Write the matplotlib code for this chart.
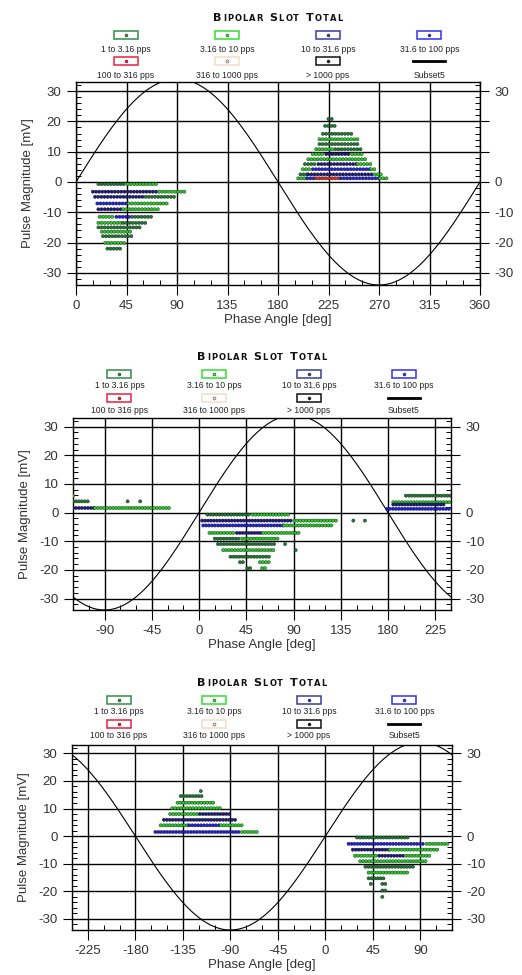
import numpy as np
import matplotlib
matplotlib.use("Agg")
import matplotlib.pyplot as plt
from matplotlib.patches import Rectangle
from matplotlib.lines import Line2D
from matplotlib.ticker import MultipleLocator

plt.rcParams['font.family'] = ['Liberation Sans', 'DejaVu Sans']
plt.rcParams['axes.unicode_minus'] = False

W, H = 522, 975
PHASE_STEP = 2.8125
SINE_AMP = 34

# legend entries (pulse rate classes)
rate_labels = ["1 to 3.16 pps", "3.16 to 10 pps", "10 to 31.6 pps", "31.6 to 100 pps",
               "100 to 316 pps", "316 to 1000 pps", "> 1000 pps", "Subset5"]
box_colors = ["#2f8f45", "#2ee02e", "#3c3c9c", "#3030f0", "#e8203c", "#f7dcc8", "#111111", "#000000"]
# dot colors by class 1..5
dot_colors = {1: "#1d7a30", 2: "#22cc22", 3: "#1a1a80", 4: "#1f1fe0", 5: "#e02020"}

# rows of pulses: (magnitude mV, phase start, phase end, class)
p1_neg = [(-0.7, 20, 45, 1), (-0.7, 46, 73, 2),
          (-3.2, 15, 73, 3), (-3.2, 74, 99, 2),
          (-4.9, 17, 60, 3), (-4.9, 62, 88, 1),
          (-7.1, 19, 45, 4), (-7.1, 47, 81, 2),
          (-9.0, 20, 40, 3), (-9.0, 42, 75, 2),
          (-11.5, 21, 35, 2), (-11.5, 36, 48, 4), (-11.5, 50, 69, 1),
          (-13.5, 20, 40, 2), (-13.5, 42, 64, 1),
          (-15.0, 20, 57, 1), (-16.4, 23, 51, 2), (-17.9, 24, 50, 1),
          (-20.1, 26, 44, 2), (-22.0, 28, 41, 1)]
p1_pos = [(20.8, 225, 229, 1), (18.5, 222, 233, 1), (15.9, 220, 247, 1),
          (14.1, 217, 251, 2), (12.5, 217, 253, 1),
          (10.8, 214, 230, 2), (10.8, 231, 256, 1),
          (9.2, 211, 222, 2), (9.2, 223, 245, 3), (9.2, 246, 255, 2),
          (7.5, 207, 259, 2),
          (5.9, 204, 215, 1), (5.9, 216, 250, 3), (5.9, 251, 265, 2),
          (4.2, 202, 210, 2), (4.2, 211, 262, 4), (4.2, 263, 268, 2),
          (2.5, 200, 206, 1), (2.5, 207, 265, 3), (2.5, 266, 273, 2),
          (1.2, 198, 205, 2), (1.2, 206, 213, 4), (1.2, 214, 235, 5),
          (1.2, 236, 270, 4), (1.2, 271, 278, 2)]

p2_neg = [(-0.7, 8, 50, 1), (-0.7, 51, 87, 2),
          (-2.8, 3, 90, 3), (-2.8, 91, 132, 2), (-2.8, 147, 147, 1), (-2.8, 158, 158, 1),
          (-4.5, 4, 80, 4), (-4.5, 81, 128, 2),
          (-7.1, 10, 35, 2), (-7.1, 36, 60, 3), (-7.1, 61, 96, 2),
          (-9.1, 15, 40, 1), (-9.1, 41, 77, 2),
          (-11.0, 18, 74, 1), (-11.0, 82, 82, 1),
          (-13.1, 23, 71, 2), (-13.1, 92, 92, 1),
          (-15.4, 30, 68, 1),
          (-17.3, 39, 44, 1), (-17.3, 58, 68, 2),
          (-19.4, 46, 50, 1), (-19.4, 60, 65, 2)]
p2_pos = [(5.9, -120, -118, 2),
          (3.9, -120, -104, 1), (3.9, -68, -68, 1), (3.9, -56, -56, 1),
          (1.6, -120, -100, 3), (1.6, -99, -26, 2),
          (5.9, 197, 240, 1), (3.6, 185, 240, 2), (2.8, 185, 235, 3), (1.3, 179, 240, 4)]

p3_pos = [(16.3, -118, -118, 1), (14.5, -137, -115, 1), (12.1, -140, -106, 2),
          (10.1, -145, -98, 2),
          (8.0, -147, -120, 2), (8.0, -119, -90, 3),
          (5.9, -153, -85, 3),
          (3.9, -156, -130, 2), (3.9, -129, -100, 4), (3.9, -99, -78, 2),
          (1.5, -161, -80, 4), (1.5, -79, -63, 2)]
p3_neg = [(-0.5, 30, 80, 1),
          (-2.8, 22, 95, 4), (-2.8, 96, 116, 2),
          (-4.9, 26, 60, 3), (-4.9, 61, 106, 2),
          (-7.1, 28, 50, 2), (-7.1, 51, 75, 3), (-7.1, 76, 99, 2),
          (-9.1, 33, 97, 2), (-11.1, 38, 85, 1), (-13.2, 41, 79, 2),
          (-15.3, 41, 57, 1),
          (-17.3, 43, 45, 1), (-17.3, 54, 57, 1),
          (-19.7, 54, 57, 1), (-22.0, 54, 54, 1)]

p1_ticks = [0, 45, 90, 135, 180, 225, 270, 315, 360]
p2_ticks = [-90, -45, 0, 45, 90, 135, 180, 225]
p3_ticks = [-225, -180, -135, -90, -45, 0, 45, 90]
y_ticks = [-30, -20, -10, 0, 10, 20, 30]

fig = plt.figure(figsize=(W / 100, H / 100), dpi=100)
renderer = fig.canvas.get_renderer()


def fx(x):
    return x / W


def fy(y):
    return 1 - y / H


def expand(rows):
    xs, ys, cs = [], [], []
    for mag, a, b, cat in rows:
        ph = np.arange(a, b + 0.01, PHASE_STEP)
        xs.extend(ph)
        ys.extend([mag] * len(ph))
        cs.extend([dot_colors[cat]] * len(ph))
    return xs, ys, cs


def smallcaps_title(cx, cy, text="Bipolar Slot Total"):
    pieces = []
    for ch in text:
        if ch == " ":
            pieces.append((None, 4))
            continue
        size = 8 if ch.isupper() else 6
        t = fig.text(0, fy(cy + 4), ch.upper(), fontsize=size, fontweight='bold',
                     family='DejaVu Sans', va='baseline', ha='left', color='#111111')
        pieces.append((t, t.get_window_extent(renderer).width))
    track = 1.2
    total = sum(w for _, w in pieces) + track * (len(pieces) - 1)
    x = cx - total / 2
    for t, w in pieces:
        if t is not None:
            t.set_x(fx(x))
        x += w + track


def header(box, title_y, gap):
    left, top, right, bottom = box
    width = right - left
    smallcaps_title((left + right) / 2, title_y)
    for i, lab in enumerate(rate_labels):
        row, col = divmod(i, 4)
        cx = left + (0.123 + 0.2505 * col) * width
        by = title_y + 18 + row * (gap + 12)
        ly = by + gap
        if i == 7:
            fig.add_artist(Line2D([fx(cx - 16), fx(cx + 16)], [fy(by), fy(by)],
                                  transform=fig.transFigure, color='black', lw=2))
        else:
            fig.add_artist(Rectangle((fx(cx - 12), fy(by + 4)), 24 / W, 8 / H, fill=False,
                                     edgecolor=box_colors[i], lw=1.1, transform=fig.transFigure))
            fig.add_artist(Line2D([fx(cx)], [fy(by)], transform=fig.transFigure, marker='o',
                                  ms=2.2, color=box_colors[i], mec='#222222', mew=0.3))
        fig.text(fx(cx), fy(ly), lab, fontsize=6.2, ha='center', va='center', color='#222222')


def panel(box, title_y, gap, xlim, xticks, clusters):
    left, top, right, bottom = box
    ax = fig.add_axes([fx(left), fy(bottom), (right - left) / W, (bottom - top) / H])
    header(box, title_y, gap)
    ph = np.linspace(xlim[0], xlim[1], 721)
    ax.plot(ph, SINE_AMP * np.sin(np.radians(ph)), color='black', lw=0.8, zorder=2)
    for rows in clusters:
        xs, ys, cs = expand(rows)
        ax.scatter(xs, ys, s=5.5, c=cs, edgecolors='#111111', linewidths=0.25, zorder=3)
    ax.set_xlim(*xlim)
    ax.set_ylim(-34, 33)
    ax.set_xticks(xticks)
    ax.set_yticks(y_ticks)
    ax.xaxis.set_minor_locator(MultipleLocator(15))
    ax.yaxis.set_minor_locator(MultipleLocator(2))
    ax.grid(True, which='major', color='black', lw=1.0, zorder=1)
    ax.tick_params(axis='y', which='major', direction='out', length=6.5, width=0.8,
                   left=True, right=True, labelleft=True, labelright=True, pad=4,
                   labelsize=9.5, labelcolor='#333333')
    ax.tick_params(axis='y', which='minor', direction='in', length=3.5, width=0.7,
                   left=True, right=True)
    ax.tick_params(axis='x', which='major', direction='out', length=7, width=0.8,
                   bottom=True, top=False, pad=4, labelsize=9.5, labelcolor='#333333')
    ax.tick_params(axis='x', which='minor', direction='in', length=3.5, width=0.7,
                   bottom=True, top=False)
    for t, v in zip(ax.yaxis.get_major_ticks(), y_ticks):
        if v in (10, 20):
            t.label2.set_visible(False)
    for sp in ax.spines.values():
        sp.set_linewidth(1.0)
    ax.set_xlabel("Phase Angle [deg]", fontsize=9.5, color='#333333', labelpad=1)
    ax.set_ylabel("Pulse Magnitude [mV]", fontsize=9.5, color='#333333', labelpad=6)
    return ax


panel((76, 82, 480, 285), 17, 14, (0, 360), p1_ticks, [p1_neg, p1_pos])
panel((73, 418, 451, 610), 356, 12, (-120, 240), p2_ticks, [p2_neg, p2_pos])
panel((72, 745, 452, 930), 682, 12, (-240, 120), p3_ticks, [p3_pos, p3_neg])

fig.savefig("out.png", dpi=100)
